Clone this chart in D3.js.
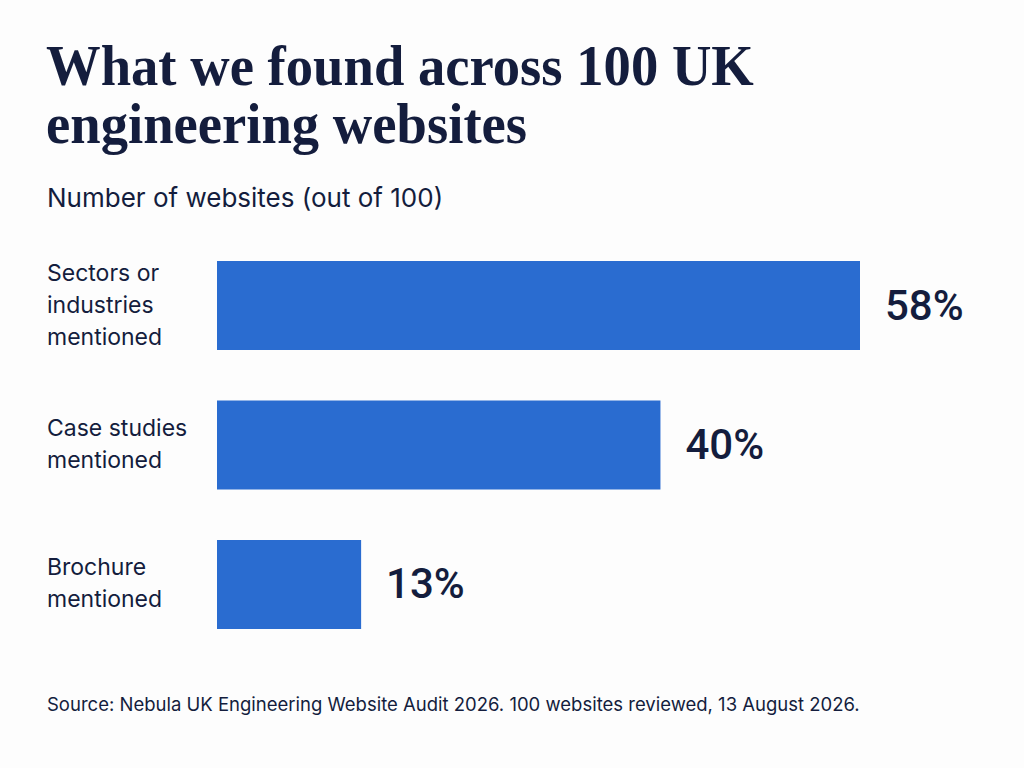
<!DOCTYPE html>
<html>
<head>
<meta charset="utf-8">
<script src="https://cdn.jsdelivr.net/npm/d3@7"></script>
<style>
  body { margin: 0; background: #fdfdfd; }
  text { fill: #141d3d; }
</style>
</head>
<body>
<script>
// data
const categories = [
  ["Sectors or", "industries", "mentioned"],
  ["Case studies", "mentioned"],
  ["Brochure", "mentioned"]
];
const values = [58, 40, 13];
const titleLines = ["What we found across 100 UK", "engineering websites"];
const subtitle = "Number of websites (out of 100)";
const source = "Source: Nebula UK Engineering Website Audit 2026. 100 websites reviewed, 13 August 2026.";

const width = 1024, height = 768;
const svg = d3.select("body").append("svg")
              .attr("width", width)
              .attr("height", height);

svg.append("rect").attr("width", width).attr("height", height).attr("fill", "#fdfdfd");

// title
const title = svg.append("g").attr("class", "title");
titleLines.forEach((t, i) => {
  title.append("text")
       .attr("x", 0)
       .attr("y", 85 + i * 58)
       .attr("font-family", "'Liberation Serif', serif")
       .attr("font-weight", "bold")
       .attr("font-size", 57)
       .text(t);
});
// stretch a little so the first line spans the same width as the reference
const firstW = title.select("text").node().getComputedTextLength();
title.attr("transform", "translate(46,0) scale(" + (708 / firstW) + ",1)");

svg.append("text")
   .attr("x", 47)
   .attr("y", 207)
   .attr("font-family", "Inter, sans-serif")
   .attr("font-size", 26)
   .text(subtitle);

// scales
const x = d3.scaleLinear().domain([0, 58]).range([217, 860]);
const y = d3.scaleBand().domain(d3.range(values.length)).range([261, 629]).paddingInner(0.362).paddingOuter(0);

const bars = svg.append("g").attr("class", "bars");
bars.selectAll("rect")
    .data(values)
    .join("rect")
    .attr("x", x(0))
    .attr("y", (d, i) => y(i))
    .attr("width", d => x(d) - x(0))
    .attr("height", y.bandwidth())
    .attr("fill", "#2a6cd0");

bars.selectAll("text.value")
    .data(values)
    .join("text")
    .attr("class", "value")
    .attr("x", d => x(d) + 25)
    .attr("y", (d, i) => y(i) + y.bandwidth() / 2 + 14)
    .attr("font-family", "Roboto, sans-serif")
    .attr("font-weight", 500)
    .attr("font-size", 42)
    .text(d => d + "%");

// category labels, several lines, centred on the bar
const lineH = 32;
const labels = svg.append("g").attr("class", "labels");
categories.forEach((lines, i) => {
  const cy = y(i) + y.bandwidth() / 2;
  const top = cy - (lines.length - 1) * lineH / 2 + 7;
  lines.forEach((l, j) => {
    labels.append("text")
          .attr("x", 47)
          .attr("y", top + j * lineH)
          .attr("font-family", "Inter, sans-serif")
          .attr("font-size", 23)
          .text(l);
  });
});

svg.append("text")
   .attr("x", 47)
   .attr("y", 711)
   .attr("font-family", "Inter, sans-serif")
   .attr("font-size", 18.5)
   .text(source);
</script>
</body>
</html>
